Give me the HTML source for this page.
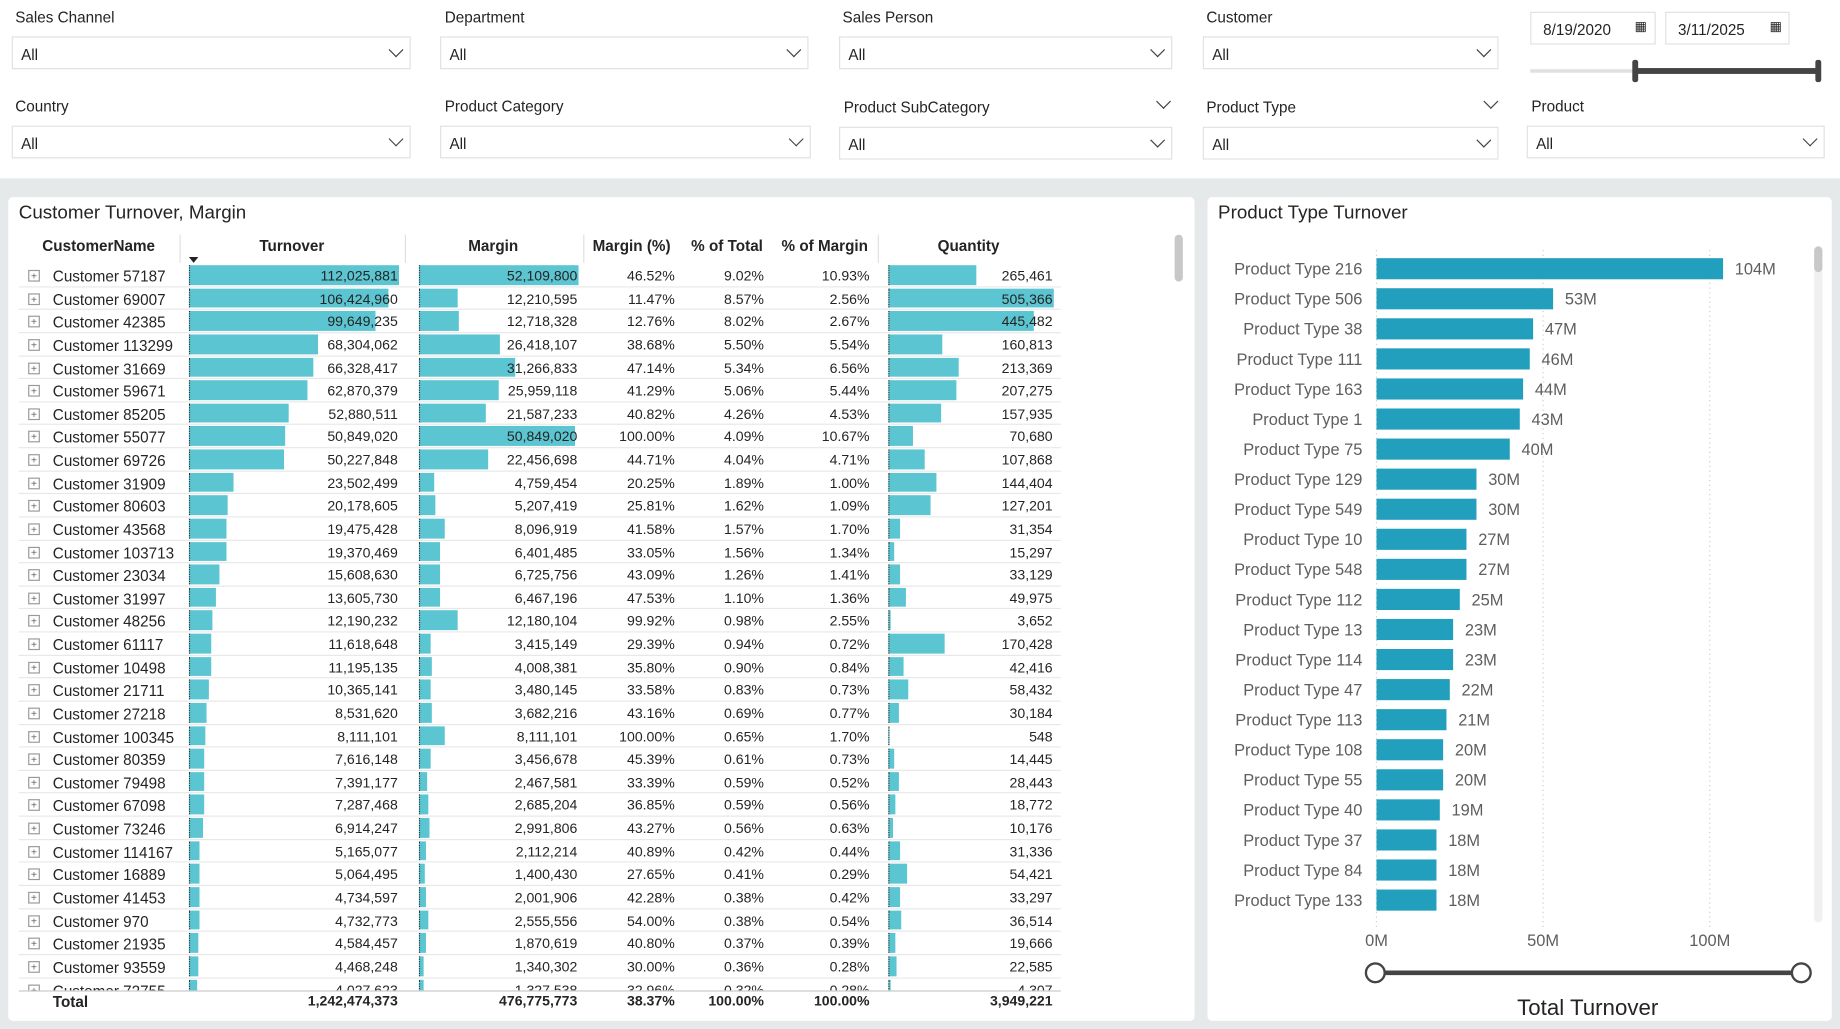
<!DOCTYPE html>
<html><head><meta charset="utf-8">
<style>
html,body{margin:0;padding:0;width:1840px;height:1029px;overflow:hidden;background:#e6e9ea;}
#root{position:absolute;left:0;top:0;width:1568px;height:877px;transform:scale(1.17347);transform-origin:0 0;font-family:"Liberation Sans",sans-serif;color:#252423;background:#e6e9ea;}
.abs{position:absolute;}
.lbl{position:absolute;font-size:13px;color:#252423;}
.dd{position:absolute;height:28px;border:1px solid #e1e1e1;background:#fff;box-sizing:border-box;font-size:13px;}
.dd span{position:absolute;left:7px;top:7px;}
.chev{position:absolute;right:7px;top:6px;width:8px;height:8px;border-right:1.3px solid #444;border-bottom:1.3px solid #444;transform:rotate(45deg);}
.panel{position:absolute;background:#fff;border-radius:4px;}
.th{position:absolute;top:202px;font-size:13px;font-weight:bold;}
.cell{position:absolute;font-size:12px;white-space:nowrap;}
.rowline{position:absolute;left:16px;width:888px;height:1px;background:#e8e8e8;}
</style></head><body>
<div id="root">
<div class="abs" style="left:0;top:0;width:1568px;height:152px;background:#fff"></div>

<div class="lbl" style="left:13px;top:7px">Sales Channel</div>
<div class="dd" style="left:10px;top:31px;width:340px"><span>All</span><i class="chev"></i></div>
<div class="lbl" style="left:379px;top:7px">Department</div>
<div class="dd" style="left:375px;top:31px;width:314px"><span>All</span><i class="chev"></i></div>
<div class="lbl" style="left:718px;top:7px">Sales Person</div>
<div class="dd" style="left:715px;top:31px;width:284px"><span>All</span><i class="chev"></i></div>
<div class="lbl" style="left:1028px;top:7px">Customer</div>
<div class="dd" style="left:1025px;top:31px;width:252px"><span>All</span><i class="chev"></i></div>
<div class="dd" style="left:1304px;top:10px;width:107px"><span style="left:10px">8/19/2020</span><span style="left:88px;top:5px;font-size:11px">&#9638;</span></div>
<div class="dd" style="left:1419px;top:10px;width:106px"><span style="left:10px">3/11/2025</span><span style="left:88px;top:5px;font-size:11px">&#9638;</span></div>
<div class="abs" style="left:1304px;top:59px;width:246px;height:3px;background:#e0e0e0"></div>
<div class="abs" style="left:1394px;top:58px;width:155px;height:5px;background:#444"></div>
<div class="abs" style="left:1391px;top:51px;width:5px;height:19px;background:#444;border-radius:2px"></div>
<div class="abs" style="left:1547px;top:51px;width:5px;height:19px;background:#444;border-radius:2px"></div>

<div class="lbl" style="left:13px;top:83px">Country</div>
<div class="dd" style="left:10px;top:107px;width:340px"><span>All</span><i class="chev"></i></div>
<div class="lbl" style="left:379px;top:83px">Product Category</div>
<div class="dd" style="left:375px;top:107px;width:316px"><span>All</span><i class="chev"></i></div>
<div class="lbl" style="left:719px;top:84px">Product SubCategory</div>
<i class="chev" style="left:987px;top:82px;right:auto"></i>
<div class="dd" style="left:715px;top:108px;width:284px"><span>All</span><i class="chev"></i></div>
<div class="lbl" style="left:1028px;top:84px">Product Type</div>
<i class="chev" style="left:1266px;top:82px;right:auto"></i>
<div class="dd" style="left:1025px;top:108px;width:252px"><span>All</span><i class="chev"></i></div>
<div class="lbl" style="left:1305px;top:83px">Product</div>
<div class="dd" style="left:1301px;top:107px;width:254px"><span>All</span><i class="chev"></i></div>

<div class="panel" style="left:7px;top:168px;width:1011px;height:702px"></div>
<div class="abs" style="left:16px;top:173px;font-size:16px">Customer Turnover, Margin</div>
<div class="th" style="left:36px">CustomerName</div>
<div class="th" style="left:221px">Turnover</div>
<div class="abs" style="left:161px;top:219px;width:0;height:0;border-left:4px solid transparent;border-right:4px solid transparent;border-top:5px solid #222"></div>
<div class="th" style="left:399px">Margin</div>
<div class="th" style="left:505px">Margin (%)</div>
<div class="th" style="left:589px">% of Total</div>
<div class="th" style="left:666px">% of Margin</div>
<div class="th" style="left:799px">Quantity</div>
<div class="abs" style="left:153px;top:200px;width:1px;height:24px;background:#e0e0e0"></div>
<div class="abs" style="left:345px;top:200px;width:1px;height:24px;background:#e0e0e0"></div>
<div class="abs" style="left:497px;top:200px;width:1px;height:24px;background:#e0e0e0"></div>
<div class="abs" style="left:748px;top:200px;width:1px;height:24px;background:#e0e0e0"></div>
<div id="tbody" class="abs" style="left:0;top:225px;width:1000px;height:619px;overflow:hidden"></div>
<div class="abs" style="left:16px;top:844px;width:888px;height:1px;background:#c8c8c8"></div>
<div id="ttotal" class="abs" style="left:0;top:845px;width:1000px;height:18px"></div>
<div class="abs" style="left:1001px;top:200px;width:7px;height:40px;background:#c8c8c8;border-radius:4px"></div>

<div class="panel" style="left:1029px;top:168px;width:532px;height:702px"></div>
<div class="abs" style="left:1038px;top:173px;font-size:16px">Product Type Turnover</div>
<div class="abs" style="left:1546px;top:210px;width:7px;height:576px;background:#f0f0f0;border-radius:4px"></div>
<div class="abs" style="left:1546px;top:210px;width:7px;height:22px;background:#c8c8c8;border-radius:4px"></div>
<svg id="chart" class="abs" style="left:1029px;top:168px" width="532" height="702"></svg>
</div>
<script>
const custNames=["Customer 57187","Customer 69007","Customer 42385","Customer 113299","Customer 31669","Customer 59671","Customer 85205","Customer 55077","Customer 69726","Customer 31909","Customer 80603","Customer 43568","Customer 103713","Customer 23034","Customer 31997","Customer 48256","Customer 61117","Customer 10498","Customer 21711","Customer 27218","Customer 100345","Customer 80359","Customer 79498","Customer 67098","Customer 73246","Customer 114167","Customer 16889","Customer 41453","Customer 970","Customer 21935","Customer 93559","Customer 72755"];
const turnover=[112025881,106424960,99649235,68304062,66328417,62870379,52880511,50849020,50227848,23502499,20178605,19475428,19370469,15608630,13605730,12190232,11618648,11195135,10365141,8531620,8111101,7616148,7391177,7287468,6914247,5165077,5064495,4734597,4732773,4584457,4468248,4027623];
const margin=[52109800,12210595,12718328,26418107,31266833,25959118,21587233,50849020,22456698,4759454,5207419,8096919,6401485,6725756,6467196,12180104,3415149,4008381,3480145,3682216,8111101,3456678,2467581,2685204,2991806,2112214,1400430,2001906,2555556,1870619,1340302,1327538];
const marginPct=[46.52,11.47,12.76,38.68,47.14,41.29,40.82,100.00,44.71,20.25,25.81,41.58,33.05,43.09,47.53,99.92,29.39,35.80,33.58,43.16,100.00,45.39,33.39,36.85,43.27,40.89,27.65,42.28,54.00,40.80,30.00,32.96];
const pctTotal=[9.02,8.57,8.02,5.50,5.34,5.06,4.26,4.09,4.04,1.89,1.62,1.57,1.56,1.26,1.10,0.98,0.94,0.90,0.83,0.69,0.65,0.61,0.59,0.59,0.56,0.42,0.41,0.38,0.38,0.37,0.36,0.32];
const pctMargin=[10.93,2.56,2.67,5.54,6.56,5.44,4.53,10.67,4.71,1.00,1.09,1.70,1.34,1.41,1.36,2.55,0.72,0.84,0.73,0.77,1.70,0.73,0.52,0.56,0.63,0.44,0.29,0.42,0.54,0.39,0.28,0.28];
const quantity=[265461,505366,445482,160813,213369,207275,157935,70680,107868,144404,127201,31354,15297,33129,49975,3652,170428,42416,58432,30184,548,14445,28443,18772,10176,31336,54421,33297,36514,19666,22585,4307];
const totals=["1,242,474,373","476,775,773","38.37%","100.00%","100.00%","3,949,221"];

const ptNames=["Product Type 216","Product Type 506","Product Type 38","Product Type 111","Product Type 163","Product Type 1","Product Type 75","Product Type 129","Product Type 549","Product Type 10","Product Type 548","Product Type 112","Product Type 13","Product Type 114","Product Type 47","Product Type 113","Product Type 108","Product Type 55","Product Type 40","Product Type 37","Product Type 84","Product Type 133"];
const ptValues=[104,53,47,46,44,43,40,30,30,27,27,25,23,23,22,21,20,20,19,18,18,18];
const ptTicks=[0,50,100];

const fmt=v=>v.toLocaleString('en-US');
const tb=document.getElementById('tbody');
const RH=19.63, ROW0=10;
const tMax=Math.max(...turnover), mMax=Math.max(...margin), qMax=Math.max(...quantity);
function mk(parent,cls,style,text){const d=document.createElement('div');d.className=cls;d.setAttribute('style',style);if(text!==undefined)d.textContent=text;parent.appendChild(d);return d;}
custNames.forEach((n,i)=>{
  const y=i*RH;
  const cy=y+ROW0;
  const ex=mk(tb,'abs',`left:24px;top:${cy-5}px;width:8px;height:8px;border:1px solid #999;font-size:9px;line-height:8px;text-align:center;color:#666`,'+');
  
  
  const nm=mk(tb,'cell',`left:45px;top:${cy-7}px;font-size:13px`,n);
  
  
  const b1=mk(tb,'abs',`left:161px;top:${y+1}px;height:${RH-3}px;width:${turnover[i]/tMax*178}px;background:#5bc5d2;border-left:1px dotted #333`);
  
  
  const b2=mk(tb,'abs',`left:357px;top:${y+1}px;height:${RH-3}px;width:${margin[i]/mMax*135}px;background:#5bc5d2;border-left:1px dotted #333`);
  
  
  const b3=mk(tb,'abs',`left:757px;top:${y+1}px;height:${RH-3}px;width:${quantity[i]/qMax*140}px;background:#5bc5d2;border-left:1px dotted #333`);
  
  
  const vals=[[fmt(turnover[i]),339],[fmt(margin[i]),492],[marginPct[i].toFixed(2)+'%',575],[pctTotal[i].toFixed(2)+'%',651],[pctMargin[i].toFixed(2)+'%',741],[fmt(quantity[i]),897]];
  vals.forEach(([t,r])=>{const c=mk(tb,'cell',`right:${1000-r}px;top:${cy-7}px`,t);
    
    });
  const l=mk(tb,'rowline',`top:${y+RH-1}px`);
});
const tt=document.getElementById('ttotal');
const tl=mk(tt,'cell',`left:45px;top:1px;font-weight:bold;font-size:13px`,'Total');


[339,492,575,651,741,897].forEach((r,k)=>{const c=mk(tt,'cell',`right:${1000-r}px;top:1px;font-weight:bold`,totals[k]);
  
  });

// chart
const svg=document.getElementById('chart');
const NS='http://www.w3.org/2000/svg';
const X0=144, PX=2.84, Y0=61, STEP=25.62, BH=18;
const xs=v=>X0+v*PX, ys=i=>Y0+i*STEP;
function el(tag,attrs,text){const e=document.createElementNS(NS,tag);for(const k in attrs)e.setAttribute(k,attrs[k]);if(text!==undefined)e.textContent=text;svg.appendChild(e);return e;}
ptTicks.forEach(t=>{
  const g=el('line',{x1:xs(t),x2:xs(t),y1:45,y2:622,stroke:'#ccc','stroke-dasharray':'1,3'});
  
  
  const tx=el('text',{x:xs(t),y:638,'text-anchor':'middle','font-size':14,fill:'#605e5c','font-family':'Liberation Sans, sans-serif'},t+'M');
  
  
});
ptNames.forEach((n,i)=>{
  const cy=ys(i);
  const lt=el('text',{x:132,y:cy+5,'text-anchor':'end','font-size':14,fill:'#605e5c','font-family':'Liberation Sans, sans-serif'},n);
  
  
  const r=el('rect',{x:xs(0),y:cy-BH/2,width:xs(ptValues[i])-xs(0),height:BH,fill:'#219fbd'});
  
  
  const vt=el('text',{x:xs(ptValues[i])+10,y:cy+5,'font-size':14,fill:'#605e5c','font-family':'Liberation Sans, sans-serif'},ptValues[i]+'M');
  
  
});
const sl=el('line',{x1:143,x2:506,y1:661,y2:661,stroke:'#444','stroke-width':4});


[143,506].forEach(x=>{const c=el('circle',{cx:x,cy:661,r:8,fill:'#fff',stroke:'#444','stroke-width':2});
  
  });
const at=el('text',{x:324,y:697,'text-anchor':'middle','font-size':19,fill:'#252423','font-family':'Liberation Sans, sans-serif'},'Total Turnover');


</script>
</body></html>
